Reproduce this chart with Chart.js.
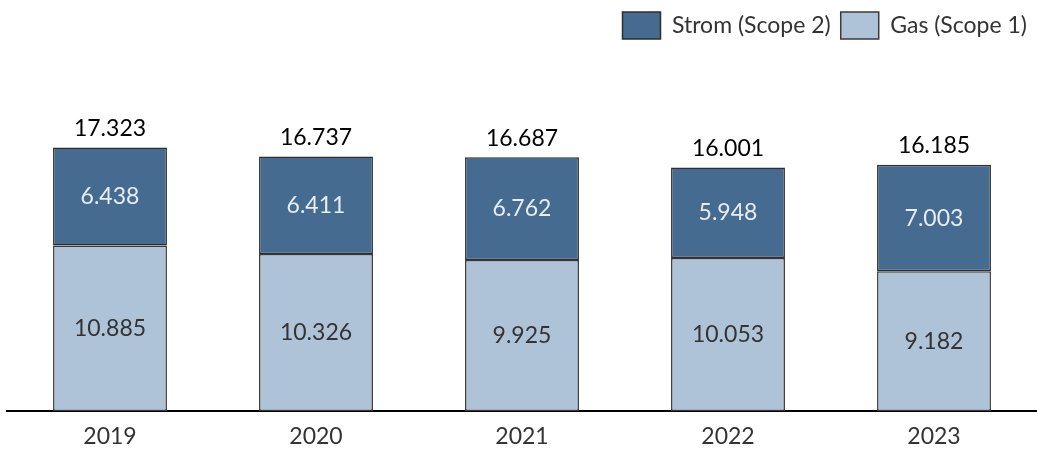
<!DOCTYPE html>
<html>
<head>
<meta charset="utf-8">
<script src="https://cdn.jsdelivr.net/npm/chart.js@4/dist/chart.umd.min.js"></script>
<style>
    body { margin: 0; background: #fff; }
</style>
</head>
<body>
<canvas id="emissions" width="1037" height="450"></canvas>
<script>
var years = ['2019', '2020', '2021', '2022', '2023'];
var gas = [10885, 10326, 9925, 10053, 9182];
var strom = [6438, 6411, 6762, 5948, 7003];

var FONT = 'Lato, "Noto Sans", sans-serif';

function fmt(v) {
    return v.toString().replace(/\B(?=(\d{3})+(?!\d))/g, '.');
}

// draws the numbers inside the bars and the totals above
var labelPlugin = {
    id: 'barLabels',
    afterDatasetsDraw: function (chart) {
        var ctx = chart.ctx;
        ctx.save();
        ctx.textAlign = 'center';
        ctx.textBaseline = 'middle';
        ctx.font = '23px ' + FONT;
        chart.data.datasets.forEach(function (ds, i) {
            var meta = chart.getDatasetMeta(i);
            ctx.fillStyle = i === 0 ? '#333333' : '#E6EDF4';
            meta.data.forEach(function (bar, j) {
                var mid = (bar.y + bar.base) / 2;
                ctx.fillText(fmt(ds.data[j]), bar.x, mid);
            });
        });
        var top = chart.getDatasetMeta(1);
        ctx.fillStyle = '#000000';
        top.data.forEach(function (bar, j) {
            ctx.fillText(fmt(gas[j] + strom[j]), bar.x, bar.y - 19);
        });
        ctx.restore();
    }
};

new Chart(document.getElementById('emissions'), {
    type: 'bar',
    data: {
        labels: years,
        datasets: [
            {
                label: 'Gas (Scope 1)',
                data: gas,
                backgroundColor: '#AEC3D8',
                borderColor: '#3A3A3A',
                borderWidth: 1.5,
                borderSkipped: false
            },
            {
                label: 'Strom (Scope 2)',
                data: strom,
                backgroundColor: '#466B90',
                borderColor: '#2E2E2E',
                borderWidth: 1.5,
                borderSkipped: false
            }
        ]
    },
    options: {
        responsive: false,
        animation: false,
        layout: { padding: { left: 7, right: 0, top: 2, bottom: 0 } },
        datasets: {
            bar: { categoryPercentage: 1, barPercentage: 0.553 }
        },
        plugins: {
            legend: {
                position: 'top',
                align: 'end',
                reverse: true,
                labels: {
                    boxWidth: 38,
                    boxHeight: 27,
                    padding: 10,
                    color: '#333333',
                    font: { family: FONT, size: 23 }
                }
            },
            tooltip: { enabled: false }
        },
        scales: {
            x: {
                stacked: true,
                grid: { display: false },
                border: { color: '#000000', width: 2 },
                ticks: { color: '#333333', font: { family: FONT, size: 23 }, padding: 4 },
                afterFit: function (scale) { scale.height = 39; }
            },
            y: {
                stacked: true,
                display: false,
                min: 0,
                max: 23800
            }
        }
    },
    plugins: [labelPlugin]
});
</script>
</body>
</html>
